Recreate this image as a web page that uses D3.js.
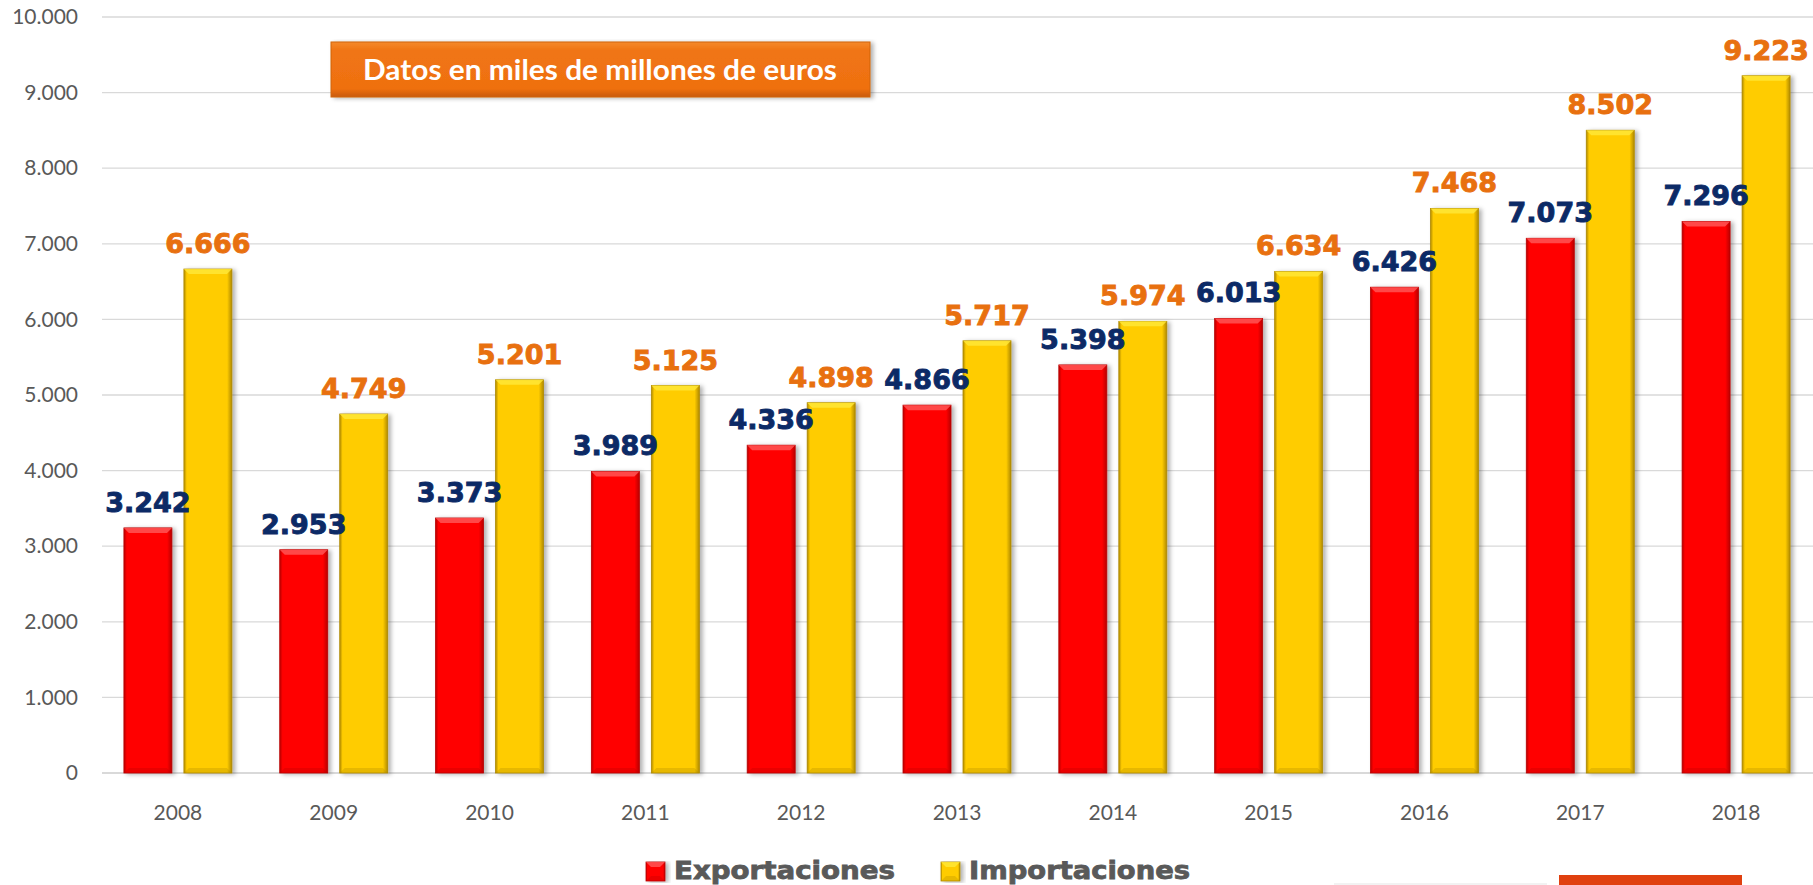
<!DOCTYPE html>
<html>
<head>
<meta charset="utf-8">
<script src="https://cdn.jsdelivr.net/npm/d3@7"></script>
<style>
  html, body { margin: 0; padding: 0; background: #fff; overflow: hidden; }
</style>
</head>
<body>
<div id="chart"></div>
<script>
const years = ['2008', '2009', '2010', '2011', '2012', '2013', '2014', '2015', '2016', '2017', '2018'];
const exportaciones = [3242, 2953, 3373, 3989, 4336, 4866, 5398, 6013, 6426, 7073, 7296];
const importaciones = [6666, 4749, 5201, 5125, 4898, 5717, 5974, 6634, 7468, 8502, 9223];
const seriesNames = ['Exportaciones', 'Importaciones'];
const yTicks = [0, 1000, 2000, 3000, 4000, 5000, 6000, 7000, 8000, 9000, 10000];
const titleText = 'Datos en miles de millones de euros';

const width = 1813;
const height = 885;

const fmt = (v) => d3.format(',')(v).replace(/,/g, '.');

const svg = d3.select('#chart')
    .append('svg')
    .attr('width', width)
    .attr('height', height);

const defs = svg.append('defs');

// bar colours: main, dark edge, light bevel
const palette = {
    Exportaciones: { main: '#ff0000', dark: '#b80000', light: '#ff5a5a', label: '#0c2a66' },
    Importaciones: { main: '#ffcc00', dark: '#b08a00', light: '#ffe83a', label: '#e8700f' }
};

Object.entries(palette).forEach(([k, c]) => {
    const g = defs.append('linearGradient')
        .attr('id', 'grad-' + k)
        .attr('x1', 0).attr('x2', 1).attr('y1', 0).attr('y2', 0);
    g.append('stop').attr('offset', '0%').attr('stop-color', c.dark);
    g.append('stop').attr('offset', '6%').attr('stop-color', c.main);
    g.append('stop').attr('offset', '90%').attr('stop-color', c.main);
    g.append('stop').attr('offset', '100%').attr('stop-color', c.dark);
});

const shadow = defs.append('filter')
    .attr('id', 'shadow')
    .attr('x', '-20%').attr('y', '-5%').attr('width', '150%').attr('height', '115%');
shadow.append('feDropShadow')
    .attr('dx', 3).attr('dy', 1)
    .attr('stdDeviation', 2)
    .attr('flood-color', '#000')
    .attr('flood-opacity', 0.3);

const boxGrad = defs.append('linearGradient')
    .attr('id', 'boxGrad')
    .attr('x1', 0).attr('x2', 0).attr('y1', 0).attr('y2', 1);
boxGrad.append('stop').attr('offset', '0%').attr('stop-color', '#f58a2a');
boxGrad.append('stop').attr('offset', '15%').attr('stop-color', '#f07514');
boxGrad.append('stop').attr('offset', '85%').attr('stop-color', '#ef7010');
boxGrad.append('stop').attr('offset', '100%').attr('stop-color', '#c85a08');

// scales
const x0 = d3.scaleBand()
    .domain(years)
    .range([100, 1814])
    .paddingInner(0)
    .paddingOuter(0);

const groupW = 108;
const x1 = d3.scaleBand()
    .domain(seriesNames)
    .range([0, groupW])
    .paddingInner(0.2)
    .paddingOuter(0);

const y = d3.scaleLinear()
    .domain([0, 10000])
    .range([773, 17]);

// gridlines
svg.append('g')
    .selectAll('line')
    .data(yTicks)
    .enter()
    .append('line')
    .attr('x1', 102)
    .attr('x2', width)
    .attr('y1', (d) => y(d))
    .attr('y2', (d) => y(d))
    .style('stroke', '#d9d9d9')
    .style('stroke-width', (d) => d === 0 ? 2 : 1.3);

// y axis labels
const yAxis = svg.append('g')
    .attr('transform', 'translate(78,0)')
    .call(d3.axisLeft(y).tickValues(yTicks).tickFormat(fmt).tickSize(0).tickPadding(0));
yAxis.select('.domain').remove();
yAxis.selectAll('text')
    .style('font-family', 'Lato, "Open Sans", sans-serif')
    .style('font-size', '21px')
    .style('fill', '#595959');

// x axis labels
const xAxis = svg.append('g')
    .attr('transform', 'translate(0,773)')
    .call(d3.axisBottom(x0).tickSize(0).tickPadding(32));
xAxis.select('.domain').remove();
xAxis.selectAll('text')
    .style('font-family', 'Lato, "Open Sans", sans-serif')
    .style('font-size', '21px')
    .style('fill', '#595959');

// title box
const box = svg.append('g');
box.append('rect')
    .attr('x', 331).attr('y', 42)
    .attr('width', 539).attr('height', 55)
    .attr('fill', 'url(#boxGrad)')
    .attr('stroke', '#d0650c')
    .attr('stroke-width', 1)
    .attr('filter', 'url(#shadow)');
box.append('text')
    .attr('x', 600)
    .attr('y', 80)
    .attr('text-anchor', 'middle')
    .attr('textLength', 474)
    .attr('lengthAdjust', 'spacingAndGlyphs')
    .style('font-family', 'Lato, "Open Sans", sans-serif')
    .style('font-weight', 'bold')
    .style('font-size', '28px')
    .style('fill', '#fff')
    .text(titleText);

// bars
const rows = years.map((yr, i) => ({
    year: yr,
    values: [
        { key: 'Exportaciones', value: exportaciones[i] },
        { key: 'Importaciones', value: importaciones[i] }
    ]
}));

const offset = (x0.bandwidth() - groupW) / 2;

function drawBar(sel, bx, by, bw, bh, key) {
    const c = palette[key];
    const g = sel.append('g');
    g.append('rect')
        .attr('x', bx).attr('y', by)
        .attr('width', bw).attr('height', bh)
        .attr('fill', 'url(#grad-' + key + ')')
        .attr('stroke', c.dark)
        .attr('stroke-width', 0.8)
        .attr('filter', 'url(#shadow)');
    const bev = Math.min(5, bh / 2);
    g.append('polygon')
        .attr('points', [
            [bx, by], [bx + bw, by], [bx + bw - bev, by + bev], [bx + bev, by + bev]
        ].map((p) => p.join(',')).join(' '))
        .attr('fill', c.light)
        .attr('opacity', 0.8);
    g.append('polygon')
        .attr('points', [
            [bx, by + bh], [bx + bw, by + bh], [bx + bw - bev, by + bh - bev], [bx + bev, by + bh - bev]
        ].map((p) => p.join(',')).join(' '))
        .attr('fill', c.dark)
        .attr('opacity', 0.3);
}

const groups = svg.append('g')
    .selectAll('.year')
    .data(rows)
    .enter()
    .append('g')
    .attr('class', 'year')
    .attr('transform', (d) => `translate(${x0(d.year) + offset},0)`);

groups.each(function (d) {
    const sel = d3.select(this);
    d.values.forEach((v) => {
        drawBar(sel, x1(v.key), y(v.value), x1.bandwidth(), y(0) - y(v.value), v.key);
    });
});

// value labels
groups.selectAll('.val')
    .data((d) => d.values)
    .enter()
    .append('text')
    .attr('class', 'val')
    .attr('x', (d) => x1(d.key) + x1.bandwidth() / 2)
    .attr('y', (d) => y(d.value) - 16)
    .attr('text-anchor', 'middle')
    .style('font-family', '"DejaVu Sans", sans-serif')
    .style('font-weight', 'bold')
    .style('font-size', '27px')
    .style('fill', (d) => palette[d.key].label)
    .style('stroke', (d) => palette[d.key].label)
    .style('stroke-width', 0.9)
    .text((d) => fmt(d.value));

// legend
const legendX = [646, 941];
const legend = svg.append('g')
    .selectAll('.leg')
    .data(seriesNames)
    .enter()
    .append('g')
    .attr('class', 'leg')
    .attr('transform', (d, i) => `translate(${legendX[i]},0)`);

legend.each(function (d) {
    drawBar(d3.select(this), 0, 862, 19, 19, d);
});

legend.append('text')
    .attr('x', 28)
    .attr('y', 879)
    .attr('textLength', 221)
    .attr('lengthAdjust', 'spacingAndGlyphs')
    .style('font-family', '"DejaVu Sans", sans-serif')
    .style('font-weight', 'bold')
    .style('font-size', '24px')
    .style('fill', '#595959')
    .style('stroke', '#595959')
    .style('stroke-width', 0.8)
    .text((d) => d);

// decorative bits at the bottom edge
svg.append('rect')
    .attr('x', 1559).attr('y', 875)
    .attr('width', 183).attr('height', 12)
    .attr('fill', '#e0400f');
svg.append('line')
    .attr('x1', 1334).attr('x2', 1547)
    .attr('y1', 884).attr('y2', 884)
    .style('stroke', '#eeeeee')
    .style('stroke-width', 1.5);
</script>
</body>
</html>
